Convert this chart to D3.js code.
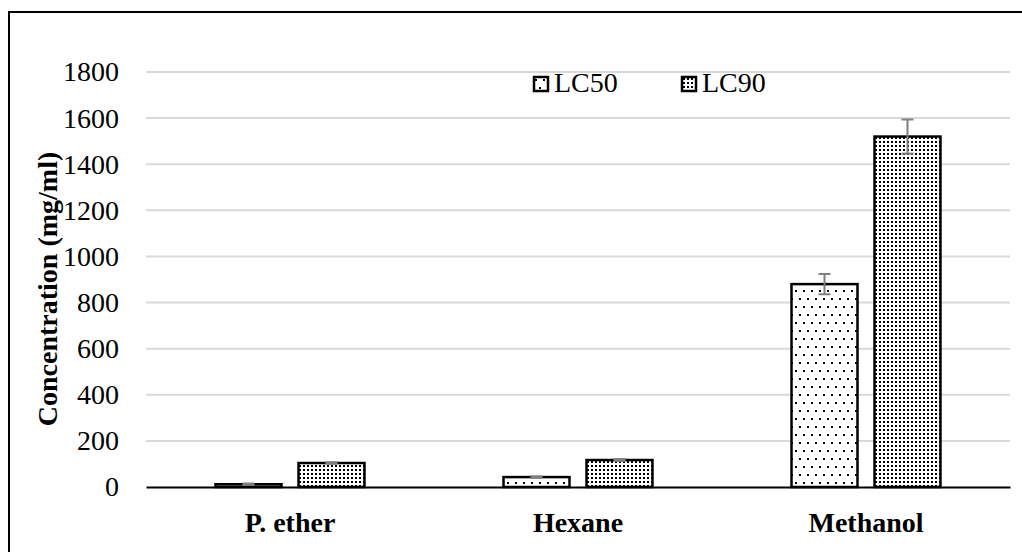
<!DOCTYPE html>
<html>
<head>
<meta charset="utf-8">
<script src="https://cdn.jsdelivr.net/npm/d3@7"></script>
<style>
  body { margin: 0; background: #fff; }
  svg { display: block; }
</style>
</head>
<body>
<div id="chart"></div>
<script>
// data
const solvents = ['P. ether', 'Hexane', 'Methanol']
const seriesNames = ['LC50', 'LC90']
const lc50 = [12, 43, 880]
const lc90 = [104, 117, 1520]
const lc50Err = [3, 3, 44]
const lc90Err = [3, 4, 74]
const yTicks = [0, 200, 400, 600, 800, 1000, 1200, 1400, 1600, 1800]

const width = 1022, height = 552
const margin = {left: 146, right: 12, top: 72, bottom: 65}
const serif = "'Liberation Serif', 'Times New Roman', serif"

const svg = d3.select('#chart')
    .append('svg')
        .attr('width', width)
        .attr('height', height)
        .style('font-family', serif)

// patterns
const defs = svg.append('defs')
const sparse = defs.append('pattern')
    .attr('id', 'sparse')
    .attr('patternUnits', 'userSpaceOnUse')
    .attr('width', 8).attr('height', 16)
sparse.append('rect').attr('width', 8).attr('height', 16).attr('fill', '#fff')
sparse.append('rect').attr('x', 1).attr('y', 2).attr('width', 2).attr('height', 2).attr('fill', '#000')
sparse.append('rect').attr('x', 5).attr('y', 10).attr('width', 2).attr('height', 2).attr('fill', '#000')

const dense = defs.append('pattern')
    .attr('id', 'dense')
    .attr('patternUnits', 'userSpaceOnUse')
    .attr('width', 4).attr('height', 4)
dense.append('rect').attr('width', 4).attr('height', 4).attr('fill', '#fff')
dense.append('rect').attr('x', 1).attr('y', 1).attr('width', 2).attr('height', 2).attr('fill', '#000')

const fills = {LC50: 'url(#sparse)', LC90: 'url(#dense)'}

// frame
svg.append('rect')
    .attr('x', 9).attr('y', 12)
    .attr('width', 1040).attr('height', 580)
    .attr('fill', 'none')
    .attr('stroke', '#000')
    .attr('stroke-width', 2)

// scales
const x0 = d3.scaleBand()
    .domain(solvents)
    .range([margin.left, width - margin.right])
const x1 = d3.scaleBand()
    .domain(seriesNames)
    .range([0, x0.bandwidth()])
    .paddingInner(0.205)
    .paddingOuter(0.8375)
const y = d3.scaleLinear()
    .domain([0, 1800])
    .range([height - margin.bottom, margin.top])

// gridlines
svg.append('g')
    .attr('class', 'grid')
    .selectAll('line')
    .data(yTicks.slice(1))
    .join('line')
        .attr('x1', margin.left)
        .attr('x2', width - margin.right)
        .attr('y1', d => y(d))
        .attr('y2', d => y(d))
        .attr('stroke', '#d9d9d9')
        .attr('stroke-width', 2)

// y axis labels
const yAxis = d3.axisLeft(y)
    .tickValues(yTicks)
    .tickFormat(d3.format('d'))
    .tickSize(0)
    .tickPadding(0)
const yg = svg.append('g')
    .attr('class', 'y axis')
    .attr('transform', 'translate(119,0)')
    .call(yAxis)
yg.select('.domain').remove()
yg.selectAll('text')
    .style('font-family', serif)
    .style('font-size', '28px')
    .attr('fill', '#000')

// bars
const rows = solvents.map((s, i) => ({
    solvent: s,
    values: [
        {key: 'LC50', value: lc50[i], err: lc50Err[i]},
        {key: 'LC90', value: lc90[i], err: lc90Err[i]}
    ]
}))

const groups = svg.append('g')
    .selectAll('g')
    .data(rows)
    .join('g')
        .attr('transform', d => 'translate(' + x0(d.solvent) + ',0)')

groups.selectAll('rect')
    .data(d => d.values)
    .join('rect')
        .attr('x', d => x1(d.key))
        .attr('y', d => y(d.value))
        .attr('width', x1.bandwidth())
        .attr('height', d => y(0) - y(d.value))
        .attr('fill', d => fills[d.key])
        .attr('stroke', '#000')
        .attr('stroke-width', 2.5)

// error bars
const errs = groups.selectAll('g.err')
    .data(d => d.values)
    .join('g')
        .attr('class', 'err')
        .attr('stroke', '#7f7f7f')
        .attr('stroke-width', 2)
errs.append('line')
    .attr('x1', d => x1(d.key) + x1.bandwidth() / 2)
    .attr('x2', d => x1(d.key) + x1.bandwidth() / 2)
    .attr('y1', d => y(d.value + d.err))
    .attr('y2', d => y(d.value - d.err))
errs.append('line')
    .attr('x1', d => x1(d.key) + x1.bandwidth() / 2 - 6)
    .attr('x2', d => x1(d.key) + x1.bandwidth() / 2 + 6)
    .attr('y1', d => y(d.value + d.err))
    .attr('y2', d => y(d.value + d.err))
errs.append('line')
    .attr('x1', d => x1(d.key) + x1.bandwidth() / 2 - 6)
    .attr('x2', d => x1(d.key) + x1.bandwidth() / 2 + 6)
    .attr('y1', d => y(d.value - d.err))
    .attr('y2', d => y(d.value - d.err))

// x axis
const xAxis = d3.axisBottom(x0)
    .tickSize(0)
    .tickPadding(25)
const xg = svg.append('g')
    .attr('class', 'x axis')
    .attr('transform', 'translate(0,' + y(0) + ')')
    .call(xAxis)
xg.select('.domain')
    .attr('stroke', '#000')
    .attr('stroke-width', 2)
xg.selectAll('text')
    .style('font-family', serif)
    .style('font-size', '28px')
    .style('font-weight', 'bold')
    .attr('fill', '#000')

// y title
svg.append('text')
    .attr('transform', 'translate(57,289) rotate(-90)')
    .attr('text-anchor', 'middle')
    .style('font-size', '28px')
    .style('font-weight', 'bold')
    .text('Concentration (mg/ml)')

// legend
const legendX = [534, 682]
const legend = svg.append('g')
    .attr('class', 'legend')
    .selectAll('g')
    .data(seriesNames)
    .join('g')
        .attr('transform', (d, i) => 'translate(' + legendX[i] + ',77)')
legend.append('rect')
    .attr('width', 14).attr('height', 14)
    .attr('fill', d => fills[d])
    .attr('stroke', '#000')
    .attr('stroke-width', 2.5)
legend.append('text')
    .attr('x', 20)
    .attr('y', 15)
    .style('font-family', serif)
    .style('font-size', '28px')
    .text(d => d)
</script>
</body>
</html>
